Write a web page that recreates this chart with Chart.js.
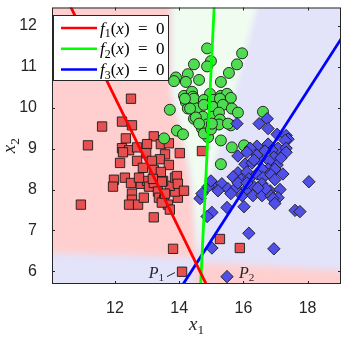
<!DOCTYPE html>
<html>
<head>
<meta charset="utf-8">
<script src="https://cdn.jsdelivr.net/npm/chart.js@4.4.0/dist/chart.umd.min.js"></script>
<style>
  html, body { margin: 0; padding: 0; background: #fff; }
</style>
</head>
<body>
<canvas id="chart" width="353" height="343"></canvas>
<script>
// axis ranges and ticks
const xRange = [10.04, 19.04];
const yRange = [5.69, 12.45];
const xTicks = [12, 14, 16, 18];
const yTicks = [6, 7, 8, 9, 10, 11, 12];

// class 1 (red squares)
const class1 = [
  [12.50,10.22],[11.60,9.54],[12.22,9.66],[12.53,9.57],[11.16,9.08],[12.34,9.25],[12.22,9.01],
  [12.44,8.96],[12.25,8.91],[12.16,8.65],[12.69,9.03],[11.97,8.24],[11.94,8.07],[12.31,8.29],
  [12.50,8.16],[12.53,7.90],[12.53,7.75],[12.44,7.63],[12.72,7.63],[12.90,7.80],[12.81,8.14],
  [13.00,8.21],[13.06,8.07],[13.21,8.16],[13.34,7.95],[13.21,7.32],[13.37,7.80],[13.53,7.75],
  [13.65,7.63],[13.71,7.51],[13.81,6.55],[13.96,7.80],[13.87,7.95],[13.71,8.09],[13.50,8.21],
  [13.87,8.29],[14.09,5.99],[10.94,7.63],[13.21,9.30],[13.00,9.11],[13.43,9.11],[13.68,9.13],
  [14.02,8.89],[12.97,8.89],[13.56,8.86],[13.40,8.74],[12.69,8.70],[13.68,8.60],[13.15,8.70],
  [12.87,8.53],[13.21,8.48],[13.43,8.43],[12.75,8.29],[13.46,8.19],[13.93,8.33],[13.96,8.14],
  [13.18,8.26],[14.71,8.94],[15.27,6.79],[15.89,6.57],[14.15,7.97],[13.46,7.68],[13.56,7.90]
];

// class 2 (green circles)
const class2 = [
  [14.87,11.45],[15.96,11.33],[14.46,11.06],[14.99,11.14],[14.87,11.01],[15.80,11.06],[15.55,10.85],
  [14.27,10.82],[13.90,10.74],[13.84,10.65],[14.21,10.63],[14.62,10.68],[15.30,10.63],[14.15,10.29],
  [14.40,10.39],[14.43,10.27],[14.96,10.34],[15.30,10.29],[15.49,10.34],[15.61,10.24],[13.71,9.95],
  [14.21,10.14],[14.46,10.22],[14.77,10.19],[15.05,10.19],[15.27,10.22],[14.27,9.98],[14.55,9.98],
  [14.77,10.07],[15.05,10.02],[15.36,10.07],[15.64,9.98],[15.83,9.88],[14.46,9.73],[14.74,9.78],
  [15.05,9.78],[15.24,9.88],[15.27,9.71],[14.71,9.49],[14.87,9.59],[15.24,9.59],[15.61,9.57],
  [13.93,9.44],[14.12,9.35],[14.90,9.28],[14.77,9.37],[15.30,9.20],[15.64,9.03],[16.02,9.08],
  [16.61,9.90],[15.30,8.62],[13.53,9.25],[14.34,9.98],[14.52,9.76],[14.99,9.47],[15.52,9.61],
  [14.62,9.61],[15.02,9.61],[14.18,10.22]
];

// class 3 (blue diamonds)
const class3 = [
  [15.80,9.61],[16.49,9.61],[16.74,9.73],[16.77,9.49],[17.05,9.35],[17.33,9.32],[17.39,9.23],
  [17.30,9.20],[16.77,9.11],[16.42,9.06],[16.21,9.01],[16.11,8.91],[15.83,8.82],[17.08,9.01],
  [17.33,9.01],[17.33,8.91],[16.89,8.96],[16.67,8.94],[16.95,8.79],[16.80,8.70],[17.05,8.60],
  [17.17,8.77],[16.05,8.62],[16.27,8.65],[16.49,8.74],[16.42,8.84],[16.33,8.72],[16.77,8.50],
  [16.98,8.50],[16.58,8.50],[15.83,8.41],[16.11,8.43],[16.42,8.38],[15.68,8.31],[15.93,8.24],
  [16.17,8.26],[16.61,8.29],[16.86,8.36],[17.23,8.38],[16.98,8.24],[15.05,8.14],[15.33,8.14],
  [15.52,8.02],[15.77,8.04],[15.61,7.90],[15.96,7.85],[16.11,8.02],[16.33,8.07],[16.58,8.14],
  [14.90,8.07],[15.21,7.97],[14.65,7.78],[14.71,7.90],[14.99,8.21],[16.30,7.85],[16.58,7.85],
  [16.83,7.97],[16.86,7.85],[18.04,8.19],[16.70,8.02],[17.14,8.00],[17.08,7.80],[16.92,7.78],
  [16.98,7.66],[16.02,7.58],[15.49,7.56],[15.02,7.44],[14.87,7.34],[17.61,7.49],[17.76,7.46],
  [16.17,6.93],[15.02,6.57],[16.95,6.55],[15.49,5.87],[16.45,8.04],[15.83,8.16],[16.11,8.16]
];

// decision lines f_i(x) = 0 (two points each, clipped by the axes)
const line1 = [[10.29,13.0],[15.27,5.0]];
const line2 = [[15.124,13.0],[14.627,5.0]];
const line3 = [[13.56,5.0],[20.0,12.85]];

// classification regions (data coords)
const regionRed = [[9,13],[13.78,13],[13.78,10.39],[14.09,9.42],[14.34,8.45],[14.46,7.73],[14.55,6.52],[14.55,6.33],[9,6.47]];
const regionGreen = [[13.78,13],[16.55,13],[16.42,12.45],[15.89,10.87],[15.52,9.66],[15.12,8.70],[14.80,7.73],[14.65,6.52],[14.55,6.52],[14.46,7.73],[14.34,8.45],[14.09,9.42],[13.78,10.39]];
const regionRed2 = [[14.5,6.23],[20,5.97],[20,5],[14.5,5]];

const legendLabels = ['1', '2', '3'];
const pLabels = [['1', 13.05, 5.84], ['2', 15.86, 5.84]];
const pStroke = [[13.62,5.87],[13.87,5.97]];

const toXY = a => a.map(p => ({x: p[0], y: p[1]}));

const FONT = '"Liberation Serif", "DejaVu Serif", serif';

function mathWidth(ctx, parts, size) {
  let w = 0;
  parts.forEach(([t, s]) => {
    ctx.font = (s === 'i' ? 'italic ' : '') + (s === 's' ? size * 0.7 : size) + 'px ' + FONT;
    w += ctx.measureText(t).width;
  });
  return w;
}
function drawMath(ctx, parts, x, y, size) {
  ctx.textBaseline = 'alphabetic';
  ctx.textAlign = 'left';
  parts.forEach(([t, s]) => {
    const sub = s === 's';
    ctx.font = (s === 'i' ? 'italic ' : '') + (sub ? size * 0.7 : size) + 'px ' + FONT;
    ctx.fillText(t, x, sub ? y + size * 0.22 : y);
    x += ctx.measureText(t).width;
  });
}

const regionPlugin = {
  id: 'regions',
  beforeDatasetsDraw(chart) {
    const {ctx, chartArea: a, scales: {x, y}} = chart;
    ctx.save();
    ctx.beginPath();
    ctx.rect(a.left, a.top, a.right - a.left, a.bottom - a.top);
    ctx.clip();
    ctx.fillStyle = '#E3E3FA';
    ctx.fillRect(a.left, a.top, a.right - a.left, a.bottom - a.top);
    ctx.filter = 'blur(3px)';
    [[regionRed, '#FFCFCF'], [regionGreen, '#F0FCF0'], [regionRed2, '#FFCFCF']].forEach(([poly, c]) => {
      ctx.beginPath();
      poly.forEach((p, i) => {
        const px = x.getPixelForValue(p[0]), py = y.getPixelForValue(p[1]);
        if (i === 0) ctx.moveTo(px, py); else ctx.lineTo(px, py);
      });
      ctx.closePath();
      ctx.fillStyle = c;
      ctx.fill();
    });
    ctx.restore();
  }
};

const framePlugin = {
  id: 'frame',
  afterDraw(chart) {
    const {ctx, chartArea: a, scales: {x, y}} = chart;
    ctx.save();
    // box + inward ticks
    ctx.strokeStyle = '#262626';
    ctx.lineWidth = 1;
    ctx.strokeRect(a.left + 0.5, a.top + 0.5, a.right - a.left - 1, a.bottom - a.top - 1);
    ctx.beginPath();
    xTicks.forEach(v => {
      const px = Math.round(x.getPixelForValue(v)) + 0.5;
      ctx.moveTo(px, a.bottom); ctx.lineTo(px, a.bottom - 3);
      ctx.moveTo(px, a.top); ctx.lineTo(px, a.top + 3);
    });
    yTicks.forEach(v => {
      const py = Math.round(y.getPixelForValue(v)) + 0.5;
      ctx.moveTo(a.left, py); ctx.lineTo(a.left + 3, py);
      ctx.moveTo(a.right, py); ctx.lineTo(a.right - 3, py);
    });
    ctx.stroke();

    // P labels
    ctx.fillStyle = '#262626';
    pLabels.forEach(([n, vx, vy]) => {
      drawMath(ctx, [['P', 'i'], [n, 's']], x.getPixelForValue(vx), y.getPixelForValue(vy), 16);
    });
    ctx.beginPath();
    ctx.moveTo(x.getPixelForValue(pStroke[0][0]), y.getPixelForValue(pStroke[0][1]));
    ctx.lineTo(x.getPixelForValue(pStroke[1][0]), y.getPixelForValue(pStroke[1][1]));
    ctx.stroke();

    // legend
    const lx = 53, ly = 15, lw = 115, lh = 65;
    ctx.fillStyle = '#fff';
    ctx.fillRect(lx, ly, lw, lh);
    ctx.strokeStyle = '#262626';
    ctx.strokeRect(lx + 0.5, ly + 0.5, lw, lh);
    const lineSets = chart.data.datasets.slice(0, 3);
    lineSets.forEach((ds, i) => {
      const yy = ly + 13 + i * 20.7;
      ctx.strokeStyle = ds.borderColor;
      ctx.lineWidth = 2.5;
      ctx.beginPath();
      ctx.moveTo(lx + 8, yy); ctx.lineTo(lx + 44, yy);
      ctx.stroke();
      ctx.fillStyle = '#000';
      drawMath(ctx, [['f', 'i'], [legendLabels[i], 's'], ['(', 'r'], ['x', 'i'], [')', 'r'], ['  =  0', 'r']], lx + 47, yy + 5.5, 17);
    });

    // axis titles
    ctx.fillStyle = '#262626';
    const t1 = [['x', 'i'], ['1', 's']];
    const t2 = [['x', 'i'], ['2', 's']];
    const w1 = mathWidth(ctx, t1, 19);
    drawMath(ctx, t1, (a.left + a.right) / 2 - w1 / 2, 330, 19);
    ctx.translate(15, (a.top + a.bottom) / 2);
    ctx.rotate(-Math.PI / 2);
    const w2 = mathWidth(ctx, t2, 19);
    drawMath(ctx, t2, -w2 / 2, 0, 19);
    ctx.restore();
  }
};

const tickFont = {family: '"Liberation Sans", Arial, sans-serif', size: 16};

new Chart(document.getElementById('chart'), {
  type: 'scatter',
  data: {
    datasets: [
      {type: 'line', data: toXY(line1), borderColor: '#FF0000', borderWidth: 2.8, pointRadius: 0, showLine: true, order: 0},
      {type: 'line', data: toXY(line2), borderColor: '#00FF00', borderWidth: 2.8, pointRadius: 0, showLine: true, order: 0},
      {type: 'line', data: toXY(line3), borderColor: '#0000FF', borderWidth: 2.8, pointRadius: 0, showLine: true, order: 0},
      {data: toXY(class3), pointStyle: 'rectRot', pointRadius: 6.2, backgroundColor: '#5050E6', borderColor: '#1a1a1a', borderWidth: 0.9, order: 1},
      {data: toXY(class2), pointStyle: 'circle', pointRadius: 5.5, backgroundColor: '#50DC50', borderColor: '#1a1a1a', borderWidth: 0.9, order: 2},
      {data: toXY(class1), pointStyle: 'rect', pointRadius: 6.6, backgroundColor: '#E65050', borderColor: '#1a1a1a', borderWidth: 0.9, order: 3}
    ]
  },
  options: {
    responsive: false,
    animation: false,
    devicePixelRatio: 1,
    layout: {padding: {left: 0, right: 12, top: 4, bottom: 0}},
    plugins: {legend: {display: false}, tooltip: {enabled: false}},
    scales: {
      x: {
        type: 'linear', min: xRange[0], max: xRange[1],
        afterBuildTicks: s => { s.ticks = xTicks.map(v => ({value: v})); },
        afterFit: s => { s.height = 59; s.paddingLeft = 0; s.paddingRight = 0; },
        grid: {display: false}, border: {display: false},
        ticks: {font: tickFont, color: '#262626', padding: 7, maxRotation: 0, autoSkip: false}
      },
      y: {
        type: 'linear', min: yRange[0], max: yRange[1],
        afterBuildTicks: s => { s.ticks = yTicks.map(v => ({value: v})); },
        afterFit: s => { s.width = 52; s.paddingTop = 0; s.paddingBottom = 0; },
        grid: {display: false}, border: {display: false},
        ticks: {font: tickFont, color: '#262626', padding: 7, autoSkip: false}
      }
    }
  },
  plugins: [regionPlugin, framePlugin]
});
</script>
</body>
</html>
